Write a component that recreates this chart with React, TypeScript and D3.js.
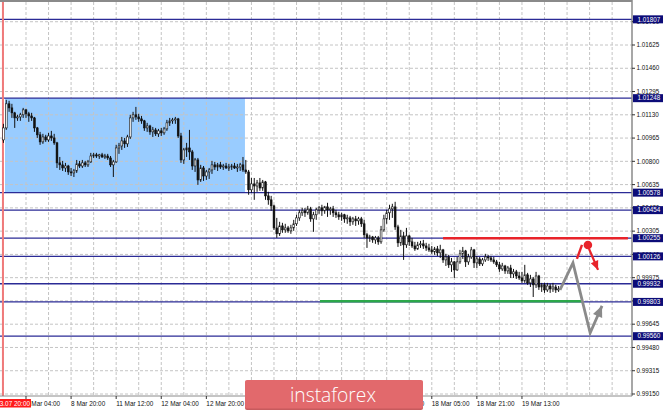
import React from 'react';
import * as d3 from 'd3';

const W = 665;
const H = 411;
const PLOT_RIGHT = 632;
const PLOT_TOP = 2;
const PLOT_BOTTOM = 396;

// price axis ticks
const priceTicks = [1.0179, 1.01625, 1.0146, 1.01295, 1.0113, 1.00965, 1.008, 1.00635, 1.0047, 1.00305, 1.0014, 0.99975, 0.9981, 0.99645, 0.9948, 0.99315, 0.9915];
// horizontal levels drawn on the chart
const levels = [1.01807, 1.01248, 1.00578, 1.00454, 1.00255, 1.00126, 0.99932, 0.99803, 0.9956];
// time axis (labels under the logo are hidden in the reference)
const timeTickBars = [8, 24, 40, 56, 72, 88, 104, 120, 136, 152, 168, 184];
const timeTickLabels = ['8 Mar 04:00', '8 Mar 20:00', '11 Mar 12:00', '12 Mar 04:00', '12 Mar 20:00', '', '', '', '15 Mar 12:00', '18 Mar 05:00', '18 Mar 21:00', '19 Mar 13:00'];
const cursorTimeLabel = '2019.03.07 20:00';

// H1 candles: [open, high, low, close]
const candles: [number, number, number, number][] = [
  [1.00952, 1.01066, 1.00931, 1.01037], [1.01037, 1.01236, 1.01023, 1.01208], [1.01208, 1.01229, 1.01151, 1.01179], [1.01179, 1.01208, 1.01108, 1.01144],
  [1.01144, 1.01151, 1.01037, 1.01108], [1.01108, 1.0113, 1.01087, 1.01115], [1.01115, 1.01144, 1.01087, 1.0113], [1.0113, 1.01179, 1.01108, 1.01165],
  [1.01165, 1.01172, 1.01108, 1.01137], [1.01137, 1.01151, 1.0108, 1.01122], [1.01122, 1.01144, 1.01087, 1.01108], [1.01108, 1.01115, 1.01009, 1.01037],
  [1.01037, 1.01044, 1.00966, 1.00988], [1.00988, 1.01009, 1.00917, 1.00938], [1.00938, 1.00995, 1.00924, 1.00973], [1.00973, 1.00988, 1.00938, 1.00952],
  [1.00952, 1.01002, 1.00938, 1.0098], [1.0098, 1.01016, 1.00945, 1.00966], [1.00966, 1.00995, 1.00917, 1.00931], [1.00931, 1.00938, 1.00753, 1.00789],
  [1.00789, 1.00831, 1.00739, 1.00775], [1.00775, 1.00803, 1.00732, 1.00753], [1.00753, 1.00789, 1.00725, 1.00767], [1.00767, 1.00775, 1.00704, 1.00725],
  [1.00725, 1.00753, 1.00696, 1.00718], [1.00718, 1.00746, 1.00689, 1.00732], [1.00732, 1.0081, 1.00718, 1.00782], [1.00782, 1.00803, 1.00753, 1.00767],
  [1.00767, 1.0081, 1.00753, 1.00789], [1.00789, 1.00803, 1.0076, 1.00775], [1.00775, 1.0081, 1.0076, 1.00796], [1.00796, 1.0086, 1.00789, 1.00838],
  [1.00838, 1.0086, 1.00824, 1.00846], [1.00846, 1.0086, 1.00824, 1.00838], [1.00838, 1.00853, 1.00817, 1.00846], [1.00846, 1.0086, 1.00824, 1.00831],
  [1.00831, 1.00853, 1.00817, 1.00838], [1.00838, 1.00853, 1.0081, 1.00824], [1.00824, 1.00838, 1.0076, 1.00775], [1.00775, 1.0081, 1.00689, 1.00796],
  [1.00796, 1.00917, 1.00789, 1.00895], [1.00895, 1.00931, 1.00853, 1.00909], [1.00909, 1.00973, 1.00881, 1.00945], [1.00945, 1.00966, 1.00895, 1.00924],
  [1.00924, 1.00988, 1.00902, 1.00973], [1.00973, 1.0113, 1.00959, 1.01108], [1.01108, 1.01151, 1.0108, 1.0113], [1.0113, 1.01186, 1.01094, 1.01115],
  [1.01115, 1.01137, 1.0108, 1.01101], [1.01101, 1.01122, 1.01066, 1.01087], [1.01087, 1.01094, 1.01016, 1.01037], [1.01037, 1.01073, 1.01009, 1.01051],
  [1.01051, 1.01059, 1.00988, 1.01009], [1.01009, 1.01044, 1.00973, 1.01023], [1.01023, 1.01037, 1.0098, 1.00995], [1.00995, 1.0103, 1.00973, 1.01016],
  [1.01016, 1.01037, 1.0098, 1.01002], [1.01002, 1.01044, 1.00988, 1.0103], [1.0103, 1.01094, 1.01016, 1.01073], [1.01073, 1.01108, 1.01051, 1.01087],
  [1.01087, 1.01108, 1.01066, 1.01094], [1.01094, 1.01115, 1.01066, 1.01101], [1.01101, 1.01108, 1.00966, 1.0098], [1.0098, 1.01002, 1.00789, 1.0081],
  [1.0081, 1.00895, 1.00782, 1.00881], [1.00881, 1.00931, 1.00831, 1.00895], [1.00895, 1.01023, 1.0081, 1.00867], [1.00867, 1.00881, 1.00739, 1.00767],
  [1.00767, 1.00824, 1.00725, 1.0081], [1.0081, 1.00824, 1.00633, 1.00668], [1.00668, 1.00775, 1.00654, 1.00753], [1.00753, 1.00767, 1.00661, 1.00696],
  [1.00696, 1.00739, 1.00668, 1.00725], [1.00725, 1.00753, 1.00675, 1.00739], [1.00739, 1.00803, 1.00711, 1.00775], [1.00775, 1.00796, 1.00739, 1.0076],
  [1.0076, 1.00789, 1.00732, 1.00775], [1.00775, 1.00796, 1.00746, 1.0076], [1.0076, 1.00782, 1.00739, 1.00767], [1.00767, 1.00789, 1.00746, 1.00753],
  [1.00753, 1.00782, 1.00732, 1.0076], [1.0076, 1.00782, 1.00739, 1.00767], [1.00767, 1.00789, 1.00746, 1.00753], [1.00753, 1.00782, 1.00725, 1.0076],
  [1.0076, 1.00789, 1.00732, 1.00775], [1.00775, 1.00831, 1.00725, 1.00739], [1.00739, 1.0081, 1.00711, 1.00725], [1.00725, 1.00739, 1.00563, 1.00598],
  [1.00598, 1.00682, 1.00577, 1.0064], [1.0064, 1.00682, 1.00527, 1.00625], [1.00625, 1.00668, 1.00584, 1.00647], [1.00647, 1.00682, 1.00591, 1.00611],
  [1.00611, 1.00668, 1.00591, 1.00654], [1.00654, 1.00661, 1.00527, 1.00555], [1.00555, 1.00584, 1.00492, 1.00527], [1.00527, 1.00555, 1.00449, 1.00484],
  [1.00484, 1.00492, 1.00314, 1.00328], [1.00328, 1.00399, 1.00257, 1.00286], [1.00286, 1.00371, 1.00271, 1.00342], [1.00342, 1.00364, 1.00293, 1.00314],
  [1.00314, 1.00357, 1.00293, 1.00328], [1.00328, 1.00342, 1.00293, 1.00307], [1.00307, 1.0035, 1.00286, 1.00328], [1.00328, 1.00385, 1.00307, 1.00357],
  [1.00357, 1.00421, 1.00342, 1.00399], [1.00399, 1.00456, 1.00378, 1.00435], [1.00435, 1.0047, 1.00413, 1.00449], [1.00449, 1.0047, 1.00406, 1.00435],
  [1.00435, 1.00484, 1.00421, 1.00463], [1.00463, 1.00477, 1.00371, 1.00392], [1.00392, 1.00442, 1.003, 1.00421], [1.00421, 1.0047, 1.00385, 1.00456],
  [1.00456, 1.00484, 1.00428, 1.0047], [1.0047, 1.00492, 1.00413, 1.00449], [1.00449, 1.00484, 1.00428, 1.00477], [1.00477, 1.00506, 1.00406, 1.00456],
  [1.00456, 1.00477, 1.00421, 1.00463], [1.00463, 1.00484, 1.00406, 1.00435], [1.00435, 1.00456, 1.00399, 1.00421], [1.00421, 1.00442, 1.00385, 1.00406],
  [1.00406, 1.00435, 1.00378, 1.00421], [1.00421, 1.00428, 1.00364, 1.00392], [1.00392, 1.00421, 1.00357, 1.00399], [1.00399, 1.00413, 1.00342, 1.00371],
  [1.00371, 1.00406, 1.0035, 1.00392], [1.00392, 1.00413, 1.00342, 1.00378], [1.00378, 1.00406, 1.0035, 1.00392], [1.00392, 1.00406, 1.00335, 1.00357],
  [1.00357, 1.00385, 1.00257, 1.00279], [1.00279, 1.00293, 1.00186, 1.00257], [1.00257, 1.00279, 1.00229, 1.00264], [1.00264, 1.00271, 1.00222, 1.00243],
  [1.00243, 1.00271, 1.00215, 1.00257], [1.00257, 1.00271, 1.00208, 1.00229], [1.00229, 1.00342, 1.00215, 1.00314], [1.00314, 1.00421, 1.003, 1.00392],
  [1.00392, 1.00456, 1.00357, 1.00435], [1.00435, 1.00492, 1.00385, 1.00463], [1.00463, 1.00499, 1.00399, 1.00477], [1.00477, 1.00513, 1.00314, 1.00335],
  [1.00335, 1.0035, 1.00193, 1.00222], [1.00222, 1.00314, 1.002, 1.00271], [1.00271, 1.003, 1.00101, 1.00208], [1.00208, 1.00328, 1.00186, 1.00271],
  [1.00271, 1.00279, 1.002, 1.00229], [1.00229, 1.00257, 1.00186, 1.002], [1.002, 1.00229, 1.00165, 1.00179], [1.00179, 1.00229, 1.00172, 1.00208],
  [1.00208, 1.00236, 1.00186, 1.00215], [1.00215, 1.00243, 1.00179, 1.002], [1.002, 1.00222, 1.00165, 1.00186], [1.00186, 1.00215, 1.00158, 1.00172],
  [1.00172, 1.002, 1.00144, 1.00158], [1.00158, 1.00193, 1.00137, 1.00179], [1.00179, 1.002, 1.00129, 1.00151], [1.00151, 1.00208, 1.00115, 1.00172],
  [1.00172, 1.00179, 1.0008, 1.00101], [1.00101, 1.00144, 1.00058, 1.00122], [1.00122, 1.00137, 1.00044, 1.00066], [1.00066, 1.00115, 1.00016, 1.00087],
  [1.00087, 1.00094, 0.99973, 1.0003], [1.0003, 1.00122, 1.00023, 1.00087], [1.00087, 1.00172, 1.00073, 1.00144], [1.00144, 1.00193, 1.00108, 1.00165],
  [1.00165, 1.00172, 1.00051, 1.00087], [1.00087, 1.00144, 1.00066, 1.00122], [1.00122, 1.00193, 1.00108, 1.00172], [1.00172, 1.00179, 1.00044, 1.0008],
  [1.0008, 1.00129, 1.00044, 1.00108], [1.00108, 1.00122, 1.00058, 1.00073], [1.00073, 1.00115, 1.00058, 1.00101], [1.00101, 1.00144, 1.00087, 1.00122],
  [1.00122, 1.00137, 1.00094, 1.00115], [1.00115, 1.00129, 1.00087, 1.00101], [1.00101, 1.00122, 1.00073, 1.00087], [1.00087, 1.00101, 1.00051, 1.00066],
  [1.00066, 1.00087, 1.00016, 1.00037], [1.00037, 1.0008, 1.00023, 1.00058], [1.00058, 1.00066, 1.00002, 1.00023], [1.00023, 1.00058, 1.00002, 1.00044],
  [1.00044, 1.00066, 0.99973, 1.00002], [1.00002, 1.00037, 0.99973, 1.00016], [1.00016, 1.0003, 0.99966, 0.99987], [0.99987, 1.00016, 0.99959, 0.99973],
  [0.99973, 1.00016, 0.99938, 0.99952], [0.99952, 1.00066, 0.99938, 0.99995], [0.99995, 1.00009, 0.99924, 0.99938], [0.99938, 0.99995, 0.99909, 0.99966],
  [0.99966, 0.9998, 0.99838, 0.99924], [0.99924, 1.00016, 0.99902, 0.99987], [0.99987, 0.99995, 0.99888, 0.99909], [0.99909, 0.99938, 0.99874, 0.99924],
  [0.99924, 0.99938, 0.99867, 0.99888], [0.99888, 0.99938, 0.99874, 0.99916], [0.99916, 0.99931, 0.99867, 0.99895], [0.99895, 0.99938, 0.99874, 0.99909],
  [0.99909, 0.99924, 0.99867, 0.99888], [0.99888, 0.99916, 0.99874, 0.99895],
];

// blue zone rectangle: [fromBar, toBar] x [top, bottom] prices
const zoneBars = [0.55, 85.7];
const zonePrices = [1.01248, 1.00578];
// red resistance segment and green support segment
const redLevelBars = [156, 221.6];
const redLevelPrice = 1.00255;
const greenLevelBars = [112.3, 205.3];
const greenLevelPrice = 0.99808;
// forecast drawings: [bar, price]
const grayForecast: [number, number][] = [[197.5, 0.99888], [202.1, 1.0008], [208.2, 0.99583], [212.4, 0.99775]];
const redStroke: [number, number][] = [[203.5, 1.00108], [205.3, 1.00207]];
const redDot: [number, number] = [207.4, 1.00207];
const redArrow: [number, number][] = [[207.8, 1.00179], [211, 1.0003]];

const FONT = '"Liberation Sans", Arial, sans-serif';

function arrowHead(p0: [number, number], p1: [number, number], len: number, half: number) {
  const dx = p1[0] - p0[0];
  const dy = p1[1] - p0[1];
  const d = Math.hypot(dx, dy) || 1;
  const ux = dx / d, uy = dy / d;
  const bx = p1[0] - ux * len, by = p1[1] - uy * len;
  return `${p1[0]},${p1[1]} ${bx - uy * half},${by + ux * half} ${bx + uy * half},${by - ux * half}`;
}

export default function App() {
  const x = d3.scaleLinear().domain([0, 224]).range([3.45, 3.45 + 224 * 2.818]);
  const y = d3.scaleLinear().domain([0.9915, 1.01625]).range([394, 45]);

  const gridBars = d3.range(0, 225, 8);
  const line = d3.line<[number, number]>().x(d => x(d[0])).y(d => y(d[1]));

  const grayPts = grayForecast.map(d => [x(d[0]), y(d[1])] as [number, number]);
  const redArrPts = redArrow.map(d => [x(d[0]), y(d[1])] as [number, number]);
  const n = grayPts.length;

  return (
    <svg width={W} height={H} style={{ position: 'absolute', left: 0, top: 0, background: '#fff' }}>
      <defs>
        <clipPath id="plot">
          <rect x={0} y={PLOT_TOP} width={PLOT_RIGHT} height={PLOT_BOTTOM - PLOT_TOP} />
        </clipPath>
      </defs>
      <rect x={0} y={0} width={W} height={H} fill="#fff" />
      <g clipPath="url(#plot)">
        {/* zone */}
        <rect x={x(zoneBars[0])} y={y(zonePrices[0])} width={x(zoneBars[1]) - x(zoneBars[0])}
          height={y(zonePrices[1]) - y(zonePrices[0])} fill="#99ccff" />
        {/* grid */}
        {priceTicks.map(p => (
          <line key={'h' + p} x1={0} x2={PLOT_RIGHT} y1={y(p)} y2={y(p)} stroke="#c4c4c4" strokeWidth={1} strokeDasharray="3,2" />
        ))}
        {gridBars.map(b => (
          <line key={'v' + b} x1={x(b)} x2={x(b)} y1={PLOT_TOP} y2={PLOT_BOTTOM} stroke="#c4c4c4" strokeWidth={1} strokeDasharray="3,2" />
        ))}
        {/* levels */}
        {levels.map(p => (
          <line key={'l' + p} x1={0} x2={PLOT_RIGHT} y1={y(p)} y2={y(p)} stroke="#2b2b96" strokeWidth={1.3} />
        ))}
        <line x1={x(redLevelBars[0])} x2={x(redLevelBars[1])} y1={y(redLevelPrice)} y2={y(redLevelPrice)} stroke="#e8232a" strokeWidth={2.4} />
        <line x1={x(greenLevelBars[0])} x2={x(greenLevelBars[1])} y1={y(greenLevelPrice)} y2={y(greenLevelPrice)} stroke="#2ca84a" strokeWidth={2.6} />
        {/* cursor line */}
        <line x1={x(0) - 0.5} x2={x(0) - 0.5} y1={0} y2={PLOT_BOTTOM} stroke="#f07a7a" strokeWidth={2} />
        {/* candles */}
        {candles.map(([o, h, l, c], i) => {
          const cx = x(i);
          const up = c >= o;
          const yt = y(Math.max(o, c));
          const yb = y(Math.min(o, c));
          return (
            <g key={'c' + i}>
              <line x1={cx} x2={cx} y1={y(h)} y2={y(l)} stroke="#111" strokeWidth={1} />
              <rect x={cx - 0.9} y={yt} width={1.8} height={Math.max(1, yb - yt)} fill={up ? '#fff' : '#111'} stroke="#111" strokeWidth={0.6} />
            </g>
          );
        })}
        {/* forecast */}
        <path d={line(grayForecast) || ''} fill="none" stroke="#8a8a8a" strokeWidth={2.8} strokeLinejoin="miter" />
        <polygon points={arrowHead(grayPts[n - 2], grayPts[n - 1], 11, 5)} fill="#8a8a8a" />
        <path d={line(redStroke) || ''} fill="none" stroke="#e8232a" strokeWidth={2.4} />
        <circle cx={x(redDot[0])} cy={y(redDot[1])} r={4.3} fill="#e8232a" />
        <path d={line([redArrow[0], redArrow[1]]) || ''} fill="none" stroke="#e8232a" strokeWidth={2.2} />
        <polygon points={arrowHead(redArrPts[0], redArrPts[1], 9, 4)} fill="#e8232a" />
      </g>
      {/* frame */}
      <line x1={0} x2={PLOT_RIGHT} y1={1} y2={1} stroke="#8a8a8a" strokeWidth={2} />
      <line x1={PLOT_RIGHT} x2={PLOT_RIGHT} y1={0} y2={PLOT_BOTTOM} stroke="#8a8a8a" strokeWidth={1.5} />
      <line x1={0} x2={PLOT_RIGHT} y1={PLOT_BOTTOM} y2={PLOT_BOTTOM} stroke="#8a8a8a" strokeWidth={1} />
      {/* price axis */}
      {priceTicks.map(p => (
        <g key={'t' + p}>
          <line x1={PLOT_RIGHT} x2={PLOT_RIGHT + 3} y1={y(p)} y2={y(p)} stroke="#333" strokeWidth={1} />
          <text x={636.5} y={y(p)} dy="0.35em" fontFamily={FONT} fontSize={6.3} fill="#111">{p.toFixed(5)}</text>
        </g>
      ))}
      {levels.map(p => (
        <g key={'lb' + p}>
          <rect x={633} y={y(p) - 4} width={30} height={8} fill="#0c0c78" />
          <text x={637.5} y={y(p)} dy="0.35em" fontFamily={FONT} fontSize={6.3} fill="#fff">{p.toFixed(5)}</text>
        </g>
      ))}
      {/* time axis */}
      {timeTickBars.map((b, k) => (
        <g key={'tt' + b}>
          <line x1={x(b)} x2={x(b)} y1={PLOT_BOTTOM} y2={PLOT_BOTTOM + 3} stroke="#333" strokeWidth={1} />
          {timeTickLabels[k] ? (
            <text x={x(b)} y={405.5} fontFamily={FONT} fontSize={6.4} fill="#111">{timeTickLabels[k]}</text>
          ) : null}
        </g>
      ))}
      <rect x={-40} y={399} width={71} height={8.5} fill="#ff1a1a" />
      <text x={30} y={405.5} textAnchor="end" fontFamily={FONT} fontSize={6.4} fill="#fff">{cursorTimeLabel}</text>
      {/* logo */}
      <rect x={245} y={381} width={178} height={29} rx={2} fill="#c75a5d" />
      <rect x={245} y={380} width={178} height={28.5} rx={2} fill="#e2696c" />
      <text x={333} y={402} textAnchor="middle" fontFamily='"Open Sans", Lato, sans-serif' fontWeight={300}
        fontSize={20} fill="#fff" textLength={86} lengthAdjust="spacingAndGlyphs">instaforex</text>
    </svg>
  );
}
